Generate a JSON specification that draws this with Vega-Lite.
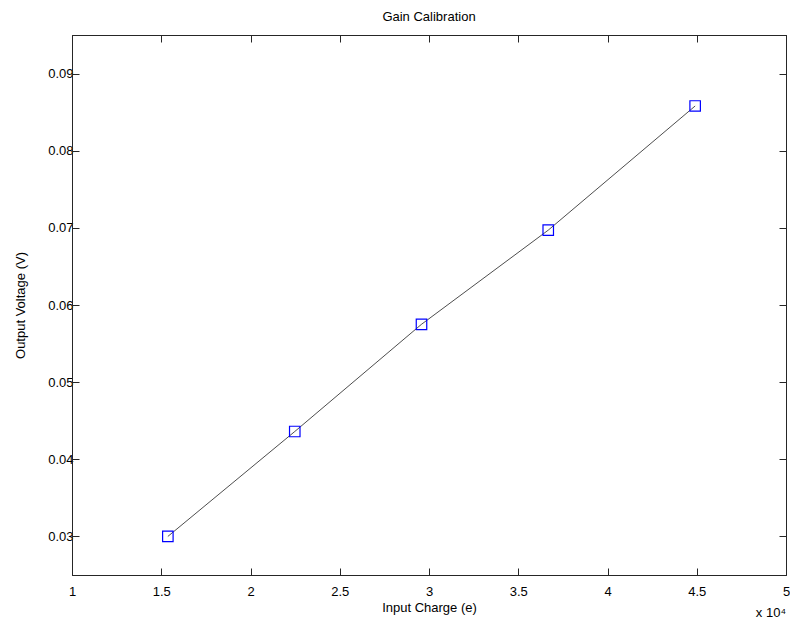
{
  "$schema": "https://vega.github.io/schema/vega-lite/v6.json",
  "width": 714,
  "height": 540,
  "autosize": {"type": "none"},
  "padding": {"left": 72, "top": 35, "right": 4, "bottom": 47},
  "background": "white",
  "title": {"text": "Gain Calibration", "font": "Liberation Sans", "fontSize": 13, "fontWeight": "normal", "color": "#000000", "offset": 11},
  "config": {
    "view": {"stroke": "#262626", "strokeWidth": 1},
    "axis": {
      "grid": false,
      "domainColor": "#262626",
      "tickColor": "#262626",
      "tickSize": -7,
      "labelFont": "Liberation Sans",
      "labelFontSize": 13,
      "labelColor": "#000000",
      "titleFont": "Liberation Sans",
      "titleFontSize": 13,
      "titleFontWeight": "normal",
      "titleColor": "#000000"
    }
  },
  "data": {"values": [
    {"charge": 15370, "voltage": 0.0300},
    {"charge": 22480, "voltage": 0.0436},
    {"charge": 29580, "voltage": 0.0575},
    {"charge": 36680, "voltage": 0.0697},
    {"charge": 44910, "voltage": 0.0858}
  ]},
  "resolve": {"axis": {"x": "independent", "y": "independent"}},
  "layer": [
    {
      "mark": {"type": "line", "color": "#000000", "strokeWidth": 0.7},
      "encoding": {
        "x": {"field": "charge", "type": "quantitative",
              "scale": {"domain": [10000, 50000], "nice": false, "zero": false},
              "axis": {"orient": "bottom", "title": "Input Charge (e)", "values": [10000, 15000, 20000, 25000, 30000, 35000, 40000, 45000, 50000],
                       "labelExpr": "format(datum.value / 10000, '~g')", "labelPadding": 17, "titlePadding": 3, "labelFlush": false}},
        "y": {"field": "voltage", "type": "quantitative",
              "scale": {"domain": [0.025, 0.095], "nice": false, "zero": false},
              "axis": {"orient": "left", "title": "Output Voltage (V)", "values": [0.03, 0.04, 0.05, 0.06, 0.07, 0.08, 0.09],
                       "format": ".2f", "labelPadding": 6, "titlePadding": 20, "labelFlush": false}}
      }
    },
    {
      "mark": {"type": "point", "shape": "square", "filled": false, "color": "#0000ff", "opacity": 1, "size": 110, "strokeWidth": 1.2},
      "encoding": {
        "x": {"field": "charge", "type": "quantitative", "axis": null},
        "y": {"field": "voltage", "type": "quantitative", "axis": null}
      }
    },
    {
      "mark": {"type": "point", "opacity": 0},
      "encoding": {
        "x": {"field": "charge", "type": "quantitative",
              "axis": {"orient": "top", "title": null, "labels": false, "values": [10000, 15000, 20000, 25000, 30000, 35000, 40000, 45000, 50000]}},
        "y": {"field": "voltage", "type": "quantitative",
              "axis": {"orient": "right", "title": null, "labels": false, "values": [0.03, 0.04, 0.05, 0.06, 0.07, 0.08, 0.09]}}
      }
    },
    {
      "data": {"values": [{"label": "x 10⁴"}]},
      "mark": {"type": "text", "align": "right", "baseline": "middle", "dy": 38, "dx": 0, "font": "Liberation Sans", "fontSize": 13, "color": "#000000"},
      "encoding": {
        "x": {"datum": 50000, "type": "quantitative", "axis": null},
        "y": {"datum": 0.025, "type": "quantitative", "axis": null},
        "text": {"field": "label"}
      }
    }
  ]
}
